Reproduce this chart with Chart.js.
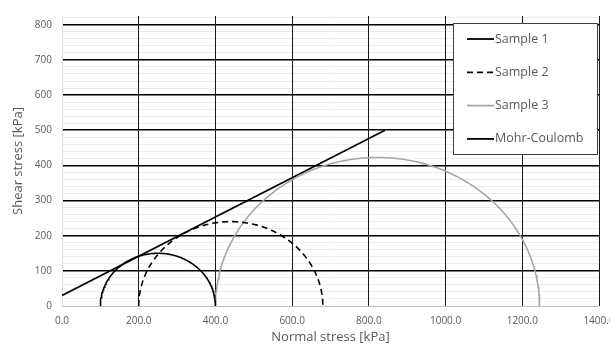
<!DOCTYPE html>
<html lang="en">
<head>
  <meta charset="UTF-8" />
  <title>Mohr circles</title>
  <script src="https://cdn.jsdelivr.net/npm/chart.js"></script>
<style>
  html, body { margin: 0; padding: 0; background: #fff; overflow: hidden; }
  .wrap { width: 630px; height: 347px; }
</style>
</head>
<body>
  <div class="wrap"><canvas id="mohrChart" width="630" height="347"></canvas></div>
<script>
  // test data
  const sampleNames = ['Sample 1', 'Sample 2', 'Sample 3'];
  const sigma3 = [100, 200, 400];     // minor principal stress [kPa]
  const sigma1 = [400, 680, 1245];    // major principal stress [kPa]
  const envelopeX = [0, 842];         // Mohr-Coulomb line
  const envelopeY = [30, 500];
  const xTicks = [0, 200, 400, 600, 800, 1000, 1200, 1400];
  const yTicks = [0, 100, 200, 300, 400, 500, 600, 700, 800];

  const FONT = '"Open Sans", "Noto Sans", sans-serif';
  const GREY_TXT = '#595959';

  // half circle through (sigma3, 0) and (sigma1, 0)
  function mohrCircle(s3, s1) {
    const c = (s1 + s3) / 2, r = (s1 - s3) / 2;
    const pts = [];
    for (let i = 0; i <= 120; i++) {
      const a = Math.PI - Math.PI * i / 120;
      pts.push({ x: c + r * Math.cos(a), y: r * Math.sin(a) });
    }
    return pts;
  }

  const styles = [
    { color: '#000000', dash: [] },
    { color: '#000000', dash: [6, 4] },
    { color: '#a6a6a6', dash: [] }
  ];

  const datasets = sampleNames.map((name, i) => ({
    label: name,
    data: mohrCircle(sigma3[i], sigma1[i]),
    borderColor: styles[i].color,
    borderDash: styles[i].dash,
    borderWidth: 1.6,
    showLine: true,
    pointRadius: 0
  }));
  datasets.push({
    label: 'Mohr-Coulomb',
    data: envelopeX.map((x, i) => ({ x: x, y: envelopeY[i] })),
    borderColor: '#000000',
    borderWidth: 1.6,
    showLine: true,
    pointRadius: 0
  });

  // legend box drawn inside the plot, top right
  const boxLegend = {
    id: 'boxLegend',
    afterDraw(chart) {
      const ctx = chart.ctx;
      const x0 = 453, y0 = 23, w = 144, h = 131;
      ctx.save();
      ctx.fillStyle = '#fff';
      ctx.fillRect(x0, y0, w, h);
      ctx.strokeStyle = '#404040';
      ctx.lineWidth = 1;
      ctx.strokeRect(x0 + 0.5, y0 + 0.5, w, h);
      ctx.font = '12.5px ' + FONT;
      ctx.textBaseline = 'middle';
      chart.data.datasets.forEach((ds, i) => {
        const y = 39 + i * 33.3;
        ctx.beginPath();
        ctx.setLineDash(ds.borderDash || []);
        ctx.strokeStyle = ds.borderColor;
        ctx.lineWidth = 1.8;
        ctx.moveTo(467, y);
        ctx.lineTo(494, y);
        ctx.stroke();
        ctx.setLineDash([]);
        ctx.fillStyle = GREY_TXT;
        ctx.fillText(ds.label, 495, y);
      });
      ctx.restore();
    }
  };

  new Chart(document.getElementById('mohrChart'), {
    type: 'scatter',
    data: { datasets: datasets },
    plugins: [boxLegend],
    options: {
      responsive: false,
      animation: false,
      layout: { padding: { top: 13, right: 31, left: 0, bottom: 0 } },
      plugins: { legend: { display: false }, tooltip: { enabled: false } },
      scales: {
        x: {
          type: 'linear',
          min: 0,
          max: 1400,
          afterBuildTicks: s => { s.ticks = xTicks.map(v => ({ value: v })); },
          afterFit: s => { s.height = 41; },
          border: { display: false },
          grid: {
            z: 0,
            drawTicks: false,
            color: c => (c.tick.value === 0 ? '#d9d9d9' : '#1a1a1a'),
            lineWidth: 1
          },
          ticks: {
            padding: 9,
            color: GREY_TXT,
            font: { family: FONT, size: 10 },
            maxRotation: 0,
            callback: v => v.toFixed(1)
          },
          title: {
            display: true,
            text: 'Normal stress [kPa]',
            color: GREY_TXT,
            font: { family: FONT, size: 13 },
            padding: { top: 0, bottom: 2 }
          }
        },
        y: {
          type: 'linear',
          min: 0,
          max: 825,
          afterBuildTicks: s => {
            const t = [];
            for (let v = 0; v <= 820; v += 20) t.push({ value: v });
            s.ticks = t;
          },
          afterFit: s => { s.width = 62; },
          border: { display: false },
          grid: {
            z: -1,
            drawTicks: false,
            color: c => {
              const v = c.tick.value;
              if (v === 0) return '#bfbfbf';
              return yTicks.includes(v) ? '#000000' : '#ececec';
            },
            lineWidth: c => (yTicks.includes(c.tick.value) && c.tick.value !== 0 ? 1.6 : 1)
          },
          ticks: {
            padding: 10,
            color: GREY_TXT,
            font: { family: FONT, size: 10 },
            autoSkip: false,
            callback: v => (yTicks.includes(v) ? String(v) : '')
          },
          title: {
            display: true,
            text: 'Shear stress [kPa]',
            color: GREY_TXT,
            font: { family: FONT, size: 13 },
            padding: { top: 10, bottom: 0 }
          }
        }
      }
    }
  });
</script>
</body>
</html>
